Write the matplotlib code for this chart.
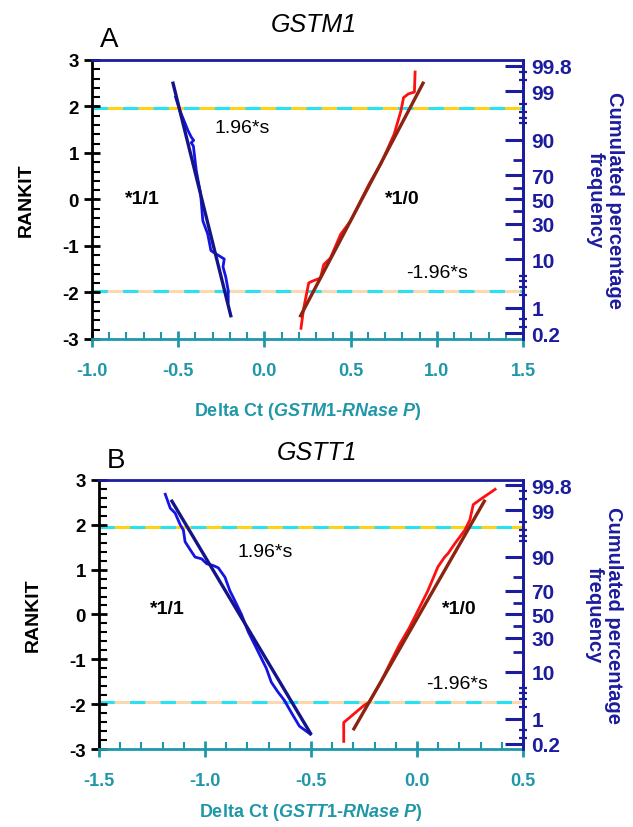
import matplotlib
matplotlib.use("Agg")
import matplotlib.pyplot as plt
from matplotlib.ticker import FixedLocator, MultipleLocator
from statistics import NormalDist

plt.rcParams['font.family'] = ['Liberation Sans', 'DejaVu Sans']
plt.rcParams['mathtext.fontset'] = 'custom'
plt.rcParams['mathtext.rm'] = 'Liberation Sans:bold'
plt.rcParams['mathtext.it'] = 'Liberation Sans:italic:bold'
plt.rcParams['mathtext.bf'] = 'Liberation Sans:bold'
plt.rcParams['axes.unicode_minus'] = False

TEAL = '#1f97a8'
NAVY = '#1c1c9e'
FITNAVY = '#14148a'
BLUE = '#1414e6'
RED = '#ff1010'
BROWN = '#8c2412'
YELLOW = '#ffd21a'
PEACH = '#fcd8b0'
CYAN = '#28e2f2'

# ---------------- Panel A (GSTM1) ----------------
a_wt_x = [-0.515, -0.49, -0.443, -0.424, -0.41, -0.425, -0.412, -0.395, -0.37,
          -0.357, -0.329, -0.31, -0.281, -0.233, -0.24, -0.224, -0.21, -0.21]
a_wt_y = [2.2, 1.91, 1.48, 1.34, 1.27, 1.22, 1.15, 0.62, 0.12,
          -0.46, -0.74, -1.10, -1.17, -1.28, -1.45, -1.67, -1.96, -2.2]
a_wt_fit_x = [-0.53, -0.195]
a_wt_fit_y = [2.5, -2.5]

a_del_x = [0.212, 0.228, 0.257, 0.276, 0.325, 0.344, 0.383, 0.442, 0.50, 0.558,
           0.607, 0.675, 0.753, 0.792, 0.807, 0.835, 0.87, 0.874]
a_del_y = [-2.77, -2.335, -1.795, -1.76, -1.69, -1.40, -1.26, -0.75, -0.46, -0.03,
           0.33, 0.76, 1.41, 1.91, 2.19, 2.27, 2.31, 2.74]
a_del_fit_x = [0.21, 0.92]
a_del_fit_y = [-2.5, 2.5]

# ---------------- Panel B (GSTT1) ----------------
b_wt_x = [-1.1875, -1.164, -1.141, -1.117, -1.102, -1.094, -1.0625, -1.047, -1.016,
          -0.992, -0.961, -0.9375, -0.906, -0.883, -0.867, -0.828, -0.797, -0.758,
          -0.711, -0.6875, -0.656, -0.625, -0.594, -0.555, -0.503]
b_wt_y = [2.68, 2.37, 2.26, 2.0, 1.88, 1.62, 1.39, 1.28, 1.24,
          1.13, 1.09, 1.04, 0.83, 0.53, 0.38, 0.0, -0.38, -0.75,
          -1.2, -1.51, -1.73, -1.92, -2.18, -2.49, -2.67]
b_wt_fit_x = [-1.156, -0.503]
b_wt_fit_y = [2.525, -2.65]

b_del_x = [-0.346, -0.346, -0.251, -0.227, -0.171, -0.132, -0.084, -0.037, 0.011,
           0.051, 0.098, 0.130, 0.146, 0.178, 0.225, 0.249, 0.265, 0.297, 0.368]
b_del_y = [-2.83, -2.41, -2.03, -1.96, -1.51, -1.13, -0.68, -0.30, 0.15,
           0.53, 1.06, 1.28, 1.36, 1.58, 1.88, 2.11, 2.45, 2.56, 2.79]
b_del_fit_x = [-0.298, 0.317]
b_del_fit_y = [-2.55, 2.525]

# Cumulated percentage axis ticks
pct_major = [0.2, 1, 10, 30, 50, 70, 90, 99, 99.8]
pct_major_labels = ['0.2', '1', '10', '30', '50', '70', '90', '99', '99.8']
pct_mid = [20, 40, 60, 80]
pct_small = [0.3, 0.5, 2, 3, 4, 5, 95, 96, 97, 98, 99.5, 99.7]

nd = NormalDist()


def z(p):
    return nd.inv_cdf(p / 100.0)


fig = plt.figure(figsize=(6.33, 8.28), dpi=100)


def panel(rect, xlim, xticks, gene, letter, wt, wtfit, dl, dlfit, texts,
          title_x, title_off, letter_off, xlabelpad):
    ax = fig.add_axes(rect)
    ax.set_xlim(*xlim)
    ax.set_ylim(-3, 3)
    ax.axhline(1.96, color=YELLOW, lw=2.2, zorder=1)
    ax.axhline(1.96, color=CYAN, lw=2.2, ls=(0, (5, 5)), zorder=1.1)
    ax.axhline(-1.96, color=PEACH, lw=2.2, zorder=1)
    ax.axhline(-1.96, color=CYAN, lw=2.2, ls=(0, (5, 5)), zorder=1.1)
    ax.plot(wt[0], wt[1], color=BLUE, lw=2.0, zorder=3)
    ax.plot(wtfit[0], wtfit[1], color=FITNAVY, lw=2.4, zorder=3.5)
    ax.plot(dl[0], dl[1], color=RED, lw=2.0, zorder=3)
    ax.plot(dlfit[0], dlfit[1], color=BROWN, lw=2.4, zorder=3.5)

    for sp in ax.spines.values():
        sp.set_linewidth(2)
    ax.spines['left'].set_color('black')
    ax.spines['top'].set_color(NAVY)
    ax.spines['right'].set_color(NAVY)
    ax.spines['bottom'].set_color(TEAL)

    ax.set_xticks(xticks)
    ax.xaxis.set_minor_locator(MultipleLocator(0.1))
    ax.set_xticklabels([f'{v:.1f}' for v in xticks])
    ax.tick_params(axis='x', which='major', direction='inout', length=11, width=2,
                   color=TEAL, labelcolor=TEAL, labelsize=13, pad=11)
    ax.tick_params(axis='x', which='minor', direction='in', length=5, width=1.5,
                   color=TEAL)
    for t in ax.get_xticklabels():
        t.set_fontweight('bold')

    ax.set_yticks([-3, -2, -1, 0, 1, 2, 3])
    ax.yaxis.set_minor_locator(MultipleLocator(0.2))
    ax.tick_params(axis='y', which='major', direction='inout', length=11, width=2,
                   color='black', labelcolor='black', labelsize=13.5, pad=4)
    ax.tick_params(axis='y', which='minor', direction='in', length=5.5, width=1.5,
                   color='black')
    for t in ax.get_yticklabels():
        t.set_fontweight('bold')
    ax.set_ylabel('RANKIT', fontsize=14, fontweight='bold', labelpad=20)

    ax.set_xlabel('Delta Ct ($\\mathit{' + gene + '}$-$\\mathit{RNase\\ P}$)',
                  fontsize=13, fontweight='bold', color=TEAL, labelpad=xlabelpad)

    # right probability axis
    ax2 = ax.twinx()
    ax2.set_ylim(-3, 3)
    for side in ['left', 'top', 'bottom']:
        ax2.spines[side].set_visible(False)
    ax2.spines['right'].set_color(NAVY)
    ax2.spines['right'].set_linewidth(2)
    ax2.yaxis.set_major_locator(FixedLocator([z(p) for p in pct_major]))
    ax2.yaxis.set_minor_locator(FixedLocator([z(p) for p in pct_mid]))
    ax2.set_yticklabels(pct_major_labels)
    ax2.tick_params(axis='y', which='major', direction='in', length=13, width=2.2,
                    color=NAVY, labelcolor=NAVY, labelsize=15, pad=6)
    ax2.tick_params(axis='y', which='minor', direction='in', length=7, width=2,
                    color=NAVY)
    for t in ax2.get_yticklabels():
        t.set_fontweight('bold')

    ax3 = ax.twinx()
    ax3.set_ylim(-3, 3)
    for side in ['left', 'top', 'bottom', 'right']:
        ax3.spines[side].set_visible(False)
    ax3.yaxis.set_major_locator(FixedLocator([z(p) for p in pct_small]))
    ax3.set_yticklabels([])
    ax3.tick_params(axis='y', which='major', direction='inout', length=6, width=1.6,
                    color=NAVY)

    ax.text(1.19, 0.5, 'Cumulated percentage\nfrequency', transform=ax.transAxes,
            rotation=270, ha='center', va='center', fontsize=14.5, fontweight='bold',
            color=NAVY, linespacing=1.0)

    for (tx, ty, s, w) in texts:
        ax.text(tx, ty, s, fontsize=14, fontweight=w, ha='center', va='center',
                color='black', zorder=5)

    x0, y0, w_, h_ = rect
    fig.text(title_x, y0 + h_ + title_off, gene, fontsize=18, style='italic',
             ha='center', va='baseline')
    fig.text(x0 + 0.012, y0 + h_ + letter_off, letter, fontsize=20, ha='left',
             va='baseline')
    return ax


panel([0.1453, 0.5894, 0.681, 0.337], (-1.0, 1.5), [-1.0, -0.5, 0.0, 0.5, 1.0, 1.5],
      'GSTM1', 'A',
      (a_wt_x, a_wt_y), (a_wt_fit_x, a_wt_fit_y),
      (a_del_x, a_del_y), (a_del_fit_x, a_del_fit_y),
      [(-0.13, 1.54, '1.96*s', 'normal'), (1.0, -1.58, '-1.96*s', 'normal'),
       (-0.71, 0.02, '*1/1', 'bold'), (0.80, 0.02, '*1/0', 'bold')],
      0.496, 0.035, 0.017, 15)

panel([0.1564, 0.0942, 0.670, 0.325], (-1.5, 0.5), [-1.5, -1.0, -0.5, 0.0, 0.5],
      'GSTT1', 'B',
      (b_wt_x, b_wt_y), (b_wt_fit_x, b_wt_fit_y),
      (b_del_x, b_del_y), (b_del_fit_x, b_del_fit_y),
      [(-0.716, 1.40, '1.96*s', 'normal'), (0.187, -1.54, '-1.96*s', 'normal'),
       (-1.18, 0.13, '*1/1', 'bold'), (0.20, 0.13, '*1/0', 'bold')],
      0.501, 0.0254, 0.016, 9)

fig.savefig('out.png', dpi=100)
